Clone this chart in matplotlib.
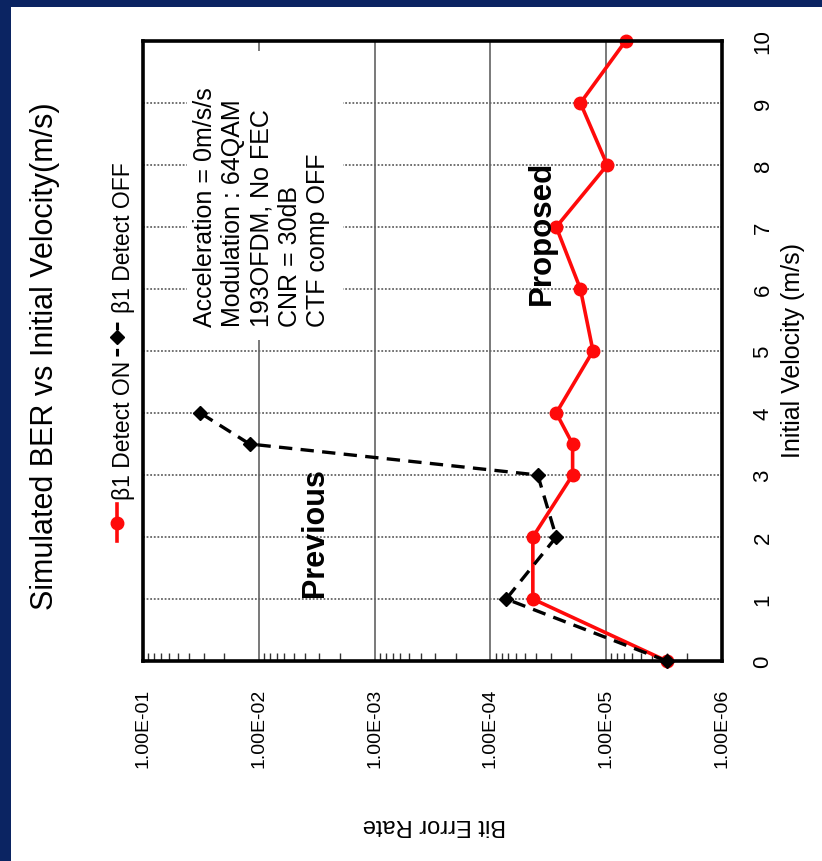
import matplotlib
matplotlib.use("Agg")
import matplotlib.pyplot as plt
from matplotlib.lines import Line2D
from matplotlib.patches import Rectangle
from matplotlib.ticker import FixedLocator, LogLocator, NullFormatter

# ---- data -------------------------------------------------------------
velocity_on = [0, 1, 2, 3, 3.5, 4, 5, 6, 7, 8, 9, 10]
ber_on = [3.0e-6, 4.3e-5, 4.3e-5, 1.95e-5, 1.95e-5, 2.7e-5,
          1.3e-5, 1.67e-5, 2.7e-5, 9.8e-6, 1.67e-5, 6.8e-6]

velocity_off = [0, 1, 2, 3, 3.5, 4]
ber_off = [3.0e-6, 7.3e-5, 2.7e-5, 3.9e-5, 1.2e-2, 3.2e-2]

ber_ticks = [1e-1, 1e-2, 1e-3, 1e-4, 1e-5, 1e-6]
ber_tick_labels = ["1.00E-01", "1.00E-02", "1.00E-03",
                   "1.00E-04", "1.00E-05", "1.00E-06"]
velocity_ticks = [0, 1, 2, 3, 4, 5, 6, 7, 8, 9, 10]
velocity_tick_labels = [str(v) for v in velocity_ticks]

title = "Simulated BER vs Initial Velocity(m/s)"
label_on = "\u03b21 Detect ON"
label_off = "\u03b21 Detect OFF"
conditions = ("Acceleration = 0m/s/s\nModulation : 64QAM\n"
              "193OFDM, No FEC\nCNR = 30dB\nCTF comp OFF")

FONT = ["Liberation Sans", "DejaVu Sans"]
plt.rcParams["font.family"] = FONT

W, H = 822, 862
def fx(px):
    return px / W
def fy(py):
    return 1 - py / H

fig = plt.figure(figsize=(W / 100, H / 100), dpi=100, facecolor="white")

# navy frame strips
navy = "#0b2462"
fig.patches.append(Rectangle((0, 0), fx(11), 1, transform=fig.transFigure,
                             facecolor=navy, edgecolor="none", zorder=0))
fig.patches.append(Rectangle((0, fy(8)), 1, 8 / H, transform=fig.transFigure,
                             facecolor=navy, edgecolor="none", zorder=0))

# ---- axes (velocity runs bottom->top, BER runs left->right) -----------
ax = fig.add_axes([fx(143), fy(662), fx(722) - fx(143), (662 - 42) / H])
ax.set_xscale("log")
ax.set_xlim(1e-1, 1e-6)
ax.set_ylim(0, 10)

for s in ax.spines.values():
    s.set_linewidth(2.6)
    s.set_color("black")
    s.set_zorder(5)

ax.xaxis.set_major_locator(FixedLocator(ber_ticks))
ax.set_xticklabels(ber_tick_labels)
ax.xaxis.set_minor_locator(LogLocator(base=10, subs=range(2, 10), numticks=20))
ax.xaxis.set_minor_formatter(NullFormatter())
ax.tick_params(axis="x", which="major", length=0, pad=19, labelrotation=90,
               labelsize=14)
ax.tick_params(axis="x", which="minor", direction="in", length=6, width=1,
               bottom=True, top=False, color="#333333")

ax.yaxis.tick_right()
ax.set_yticks(velocity_ticks)
ax.set_yticklabels(velocity_tick_labels)
ax.tick_params(axis="y", which="both", length=0, pad=22, labelrotation=90,
               labelsize=16)
for lab in ax.get_yticklabels():
    lab.set_verticalalignment("center")

# grid: solid verticals at decades, dotted horizontals at each m/s
for t in ber_ticks[1:-1]:
    ax.axvline(t, color="#555555", lw=1.1, zorder=1)
for v in velocity_ticks[1:-1]:
    ax.axhline(v, color="#666666", lw=1.3, ls=(0, (1, 1)), zorder=1)

# ---- series -----------------------------------------------------------
ax.plot(ber_on, velocity_on, color="#ff0a0a", lw=2.6, marker="o",
        markersize=9, markeredgecolor="#ff0a0a", clip_on=False, zorder=3)
ax.plot(ber_off, velocity_off, color="black", lw=2.4, ls=(0, (4, 2.5)),
        marker="D", markersize=7, clip_on=False, zorder=4)

# ---- texts ------------------------------------------------------------
fig.text(fx(53), fy(610), title, rotation=90, rotation_mode="anchor",
         ha="left", va="baseline", fontsize=22)

fig.text(fx(793), fy(351), "Initial Velocity (m/s)", rotation=90,
         ha="center", va="center", fontsize=18)
fig.text(fx(434), fy(825), "Bit Error Rate", rotation=180,
         ha="center", va="center", fontsize=17)

fig.text(fx(323), fy(597), "Previous", rotation=90, rotation_mode="anchor",
         ha="left", va="baseline", fontsize=22, fontweight="bold")
fig.text(fx(550), fy(305), "Proposed", rotation=90, rotation_mode="anchor",
         ha="left", va="baseline", fontsize=22.5, fontweight="bold")

# white panel behind the simulation conditions
fig.patches.append(Rectangle((fx(187), fy(341)), fx(343) - fx(187),
                             (341 - 52) / H, transform=fig.transFigure,
                             facecolor="white", edgecolor="none", zorder=1))
fig.text(fx(193), fy(327), conditions, rotation=90, rotation_mode="anchor",
         ha="left", va="top", multialignment="left", linespacing=1.22,
         fontsize=18, zorder=6)

# legend drawn by hand so its text runs vertically
fig.add_artist(Line2D([fx(117), fx(117)], [fy(542), fy(505)],
                      transform=fig.transFigure, color="#ff0a0a", lw=2.6))
fig.add_artist(Line2D([fx(117)], [fy(524)], transform=fig.transFigure,
                      marker="o", markersize=9, color="#ff0a0a"))
fig.text(fx(130), fy(500), label_on, rotation=90, rotation_mode="anchor",
         ha="left", va="baseline", fontsize=16.5)

fig.add_artist(Line2D([fx(117), fx(117)], [fy(357), fy(320)],
                      transform=fig.transFigure, color="black", lw=2.2,
                      ls=(0, (2.5, 1.8))))
fig.add_artist(Line2D([fx(117)], [fy(338)], transform=fig.transFigure,
                      marker="D", markersize=7, color="black"))
fig.text(fx(130), fy(313), label_off, rotation=90, rotation_mode="anchor",
         ha="left", va="baseline", fontsize=16.5)

fig.savefig("out.png", dpi=100, facecolor="white")
